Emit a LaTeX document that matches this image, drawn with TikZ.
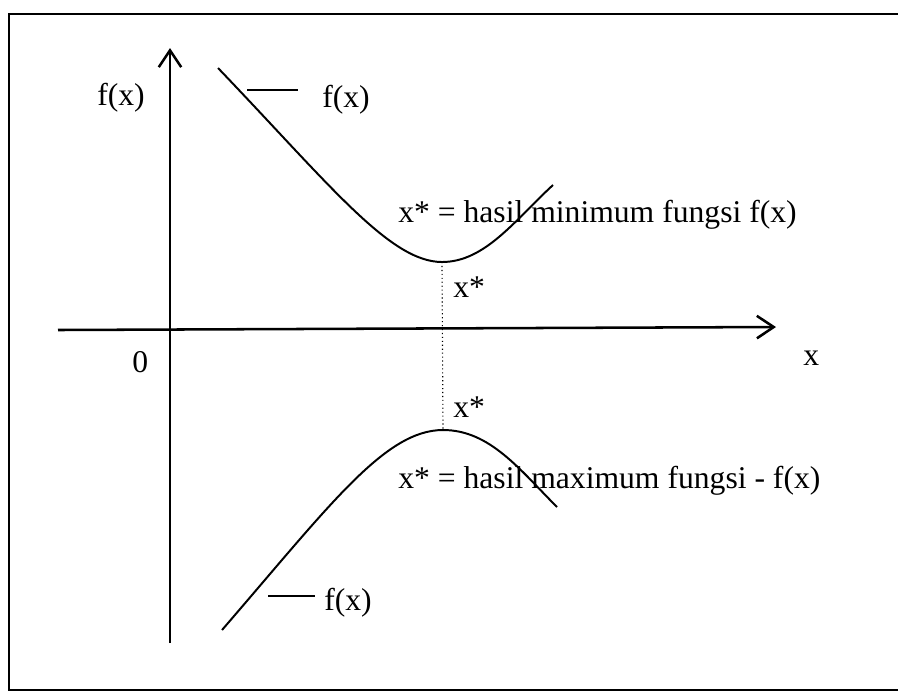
\documentclass[tikz,border=0pt]{standalone}
\usepackage{fontspec}
\setmainfont{Liberation Serif}
\usetikzlibrary{arrows.meta}

\tikzset{
    lbl/.style={inner sep=0pt, anchor=base west, font=\fontsize{22.5}{27}\selectfont},
    axisline/.style={line width=1.8pt, -{Straight Barb[length=12pt,width=16pt]}},
    curveline/.style={line width=1.4pt},
}

\begin{document}
\begin{tikzpicture}[x=0.025cm, y=-0.025cm]
    \useasboundingbox (0,0) rectangle (898,693);

    % --- Frame ---
    \draw[line width=1.8pt] (898,14) -- (9,14) -- (9,690) -- (898,690);

    % --- Axes ---
    \draw[axisline] (170,643) -- (170,48);
    \draw[axisline] (58,330) -- (776,327);
    \node[lbl] (fy) at (97,105) {f(x)};
    \node[lbl] (xlbl) at (803,365) {x};
    \node[lbl] (zero) at (132,372) {0};

    % --- Minimum of f(x) ---
    \draw[curveline] (218,68) .. controls (330,185) and (390,262) .. (442,262) coordinate (min)
        .. controls (485,262) and (515,220) .. (553,185);
    \draw[curveline] (247,90) -- (298,90);
    \node[lbl] (ftop) at (322,107) {f(x)};
    \node[lbl] (minlbl) at (398,222) {x* = hasil minimum fungsi f(x)};
    \node[lbl] (xmin) at (453,297) {x*};

    % --- Maximum of -f(x) ---
    \draw[curveline] (222,630) .. controls (330,505) and (385,430) .. (443,430) coordinate (max)
        .. controls (490,430) and (520,470) .. (557,507);
    \draw[curveline] (268,596) -- (315,596);
    \node[lbl] (fbot) at (324,610) {f(x)};
    \node[lbl] (maxlbl) at (398,488) {x* = hasil maximum fungsi - f(x)};
    \node[lbl] (xmax) at (453,417) {x*};

    \draw[dotted, line width=0.8pt] (min) -- (max);
\end{tikzpicture}
\end{document}
